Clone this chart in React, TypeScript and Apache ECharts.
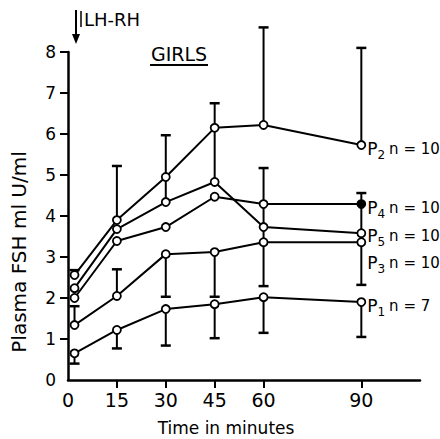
import React, { useEffect, useRef } from "react";
import * as echarts from "echarts";

const times = [2, 15, 30, 45, 60, 90];
const p1 = [0.65, 1.22, 1.73, 1.85, 2.02, 1.9];
const p2 = [2.56, 3.9, 4.95, 6.15, 6.22, 5.73];
const p3 = [1.34, 2.05, 3.07, 3.12, 3.36, 3.36];
const p4 = [2.0, 3.39, 3.73, 4.47, 4.29, 4.29];
const p5 = [2.24, 3.68, 4.34, 4.83, 3.73, 3.58];

// error bars: [time, from (mean), to (cap end)]
const errorBars: number[][] = [
  [2, 2.56, 2.68],
  [2, 1.34, 1.8],
  [2, 0.65, 0.4],
  [15, 3.9, 5.22],
  [15, 2.05, 2.7],
  [15, 1.22, 0.77],
  [30, 4.34, 5.97],
  [30, 3.07, 2.03],
  [30, 1.73, 0.84],
  [45, 4.83, 6.75],
  [45, 3.12, 2.03],
  [45, 1.85, 1.02],
  [60, 6.22, 8.6],
  [60, 4.29, 5.17],
  [60, 4.29, 2.29],
  [60, 2.02, 1.15],
  [90, 5.73, 8.1],
  [90, 4.29, 4.56],
  [90, 4.29, 2.32],
  [90, 1.9, 1.05],
];

const xTickValues = [15, 30, 45, 60, 90];
const xLabelValues = [0, 15, 30, 45, 60, 90];
const yTickValues = [1, 2, 3, 4, 5, 6, 7, 8];

const seriesDefs = [
  { name: "P1", sub: "1", n: "7", values: p1, offset: [0, 4] },
  { name: "P2", sub: "2", n: "10", values: p2, offset: [0, 4] },
  { name: "P3", sub: "3", n: "10", values: p3, offset: [0, 21] },
  { name: "P4", sub: "4", n: "10", values: p4, offset: [0, 4], filledLast: true },
  { name: "P5", sub: "5", n: "10", values: p5, offset: [0, 3] },
];

const FONT = "DejaVu Sans";

export default function App() {
  const ref = useRef<HTMLDivElement>(null);
  useEffect(() => {
    if (!ref.current) return;
    const chart = echarts.init(ref.current, undefined, { renderer: "svg" });

    const lineSeries = seriesDefs.map((s) => ({
      type: "line",
      name: s.name,
      z: 3,
      symbol: "circle",
      symbolSize: 8,
      itemStyle: { color: "#fff", borderColor: "#000", borderWidth: 1.8 },
      lineStyle: { color: "#000", width: 2 },
      data: s.values.map((v, i) => {
        const item: any = { value: [times[i], v] };
        if (i === s.values.length - 1) {
          if ((s as any).filledLast) item.itemStyle = { color: "#000" };
          item.label = {
            show: true,
            position: "right",
            distance: 1,
            offset: s.offset,
            formatter: `{p|P}{s|${s.sub}}{n|n = ${s.n}}`,
            rich: {
              p: { fontSize: 17, fontFamily: FONT, color: "#000", lineHeight: 24, verticalAlign: "middle" },
              s: { fontSize: 12, fontFamily: FONT, color: "#000", lineHeight: 24, verticalAlign: "bottom", padding: [8, 0, 0, 0] },
              n: { fontSize: 15, fontFamily: FONT, color: "#000", lineHeight: 24, verticalAlign: "middle", padding: [0, 0, 0, 4] },
            },
          };
        }
        return item;
      }),
    }));

    const option: any = {
      animation: false,
      backgroundColor: "#fff",
      grid: { left: 68, right: 20, top: 52, bottom: 59 },
      xAxis: {
        type: "value",
        min: 0,
        max: 108,
        interval: 15,
        axisLine: { show: true, lineStyle: { color: "#000", width: 2.5 } },
        axisTick: { show: true, length: 8, inside: false, customValues: xTickValues, lineStyle: { color: "#000", width: 2 } },
        axisLabel: {
          customValues: xLabelValues,
          fontSize: 19,
          fontFamily: FONT,
          color: "#000",
          margin: 10,
          formatter: (v: number) => (xLabelValues.includes(v) ? String(v) : ""),
        },
        splitLine: { show: false },
      },
      yAxis: {
        type: "value",
        min: 0,
        max: 8,
        interval: 1,
        axisLine: { show: true, lineStyle: { color: "#000", width: 2.5 } },
        axisTick: { show: true, length: 8, inside: false, customValues: yTickValues, lineStyle: { color: "#000", width: 2 } },
        axisLabel: { fontSize: 17, fontFamily: FONT, color: "#000", margin: 12 },
        splitLine: { show: false },
      },
      graphic: [
        {
          type: "text",
          x: 19,
          y: 252,
          rotation: Math.PI / 2,
          style: {
            text: "Plasma FSH ml U/ml",
            fontSize: 20,
            fontFamily: FONT,
            fill: "#000",
            align: "center",
            verticalAlign: "middle",
          },
        },
        {
          type: "text",
          x: 226,
          y: 428,
          style: { text: "Time in minutes", fontSize: 17, fontFamily: FONT, fill: "#000", align: "center", verticalAlign: "middle" },
        },
        { type: "line", shape: { x1: 76, y1: 10, x2: 76, y2: 38 }, style: { stroke: "#000", lineWidth: 2 } },
        { type: "polygon", shape: { points: [[72, 34], [80, 34], [76, 44]] }, style: { fill: "#000" } },
        { type: "line", shape: { x1: 81, y1: 11, x2: 81, y2: 27 }, style: { stroke: "#000", lineWidth: 1.5 } },
        {
          type: "text",
          x: 84,
          y: 19,
          style: { text: "LH-RH", fontSize: 18, fontFamily: FONT, fill: "#000", align: "left", verticalAlign: "middle" },
        },
        {
          type: "text",
          x: 179,
          y: 54,
          style: { text: "GIRLS", fontSize: 19, fontFamily: FONT, fill: "#000", align: "center", verticalAlign: "middle" },
        },
        { type: "line", shape: { x1: 150, y1: 65, x2: 208, y2: 65 }, style: { stroke: "#000", lineWidth: 2 } },
      ],
      series: [
        {
          type: "custom",
          z: 2,
          data: errorBars,
          encode: { x: 0, y: [1, 2] },
          renderItem: (params: any, api: any) => {
            const t = api.value(0);
            const a = api.value(1);
            const b = api.value(2);
            const pa = api.coord([t, a]);
            const pb = api.coord([t, b]);
            return {
              type: "group",
              children: [
                { type: "line", shape: { x1: pa[0], y1: pa[1], x2: pb[0], y2: pb[1] }, style: { stroke: "#000", lineWidth: 2 } },
                { type: "line", shape: { x1: pb[0] - 5, y1: pb[1], x2: pb[0] + 5, y2: pb[1] }, style: { stroke: "#000", lineWidth: 2.5 } },
              ],
            };
          },
        },
        ...lineSeries,
      ],
    };
    chart.setOption(option);
    return () => chart.dispose();
  }, []);
  return <div ref={ref} style={{ position: "fixed", left: 0, top: 0, width: 440, height: 439, background: "#fff" }} />;
}
